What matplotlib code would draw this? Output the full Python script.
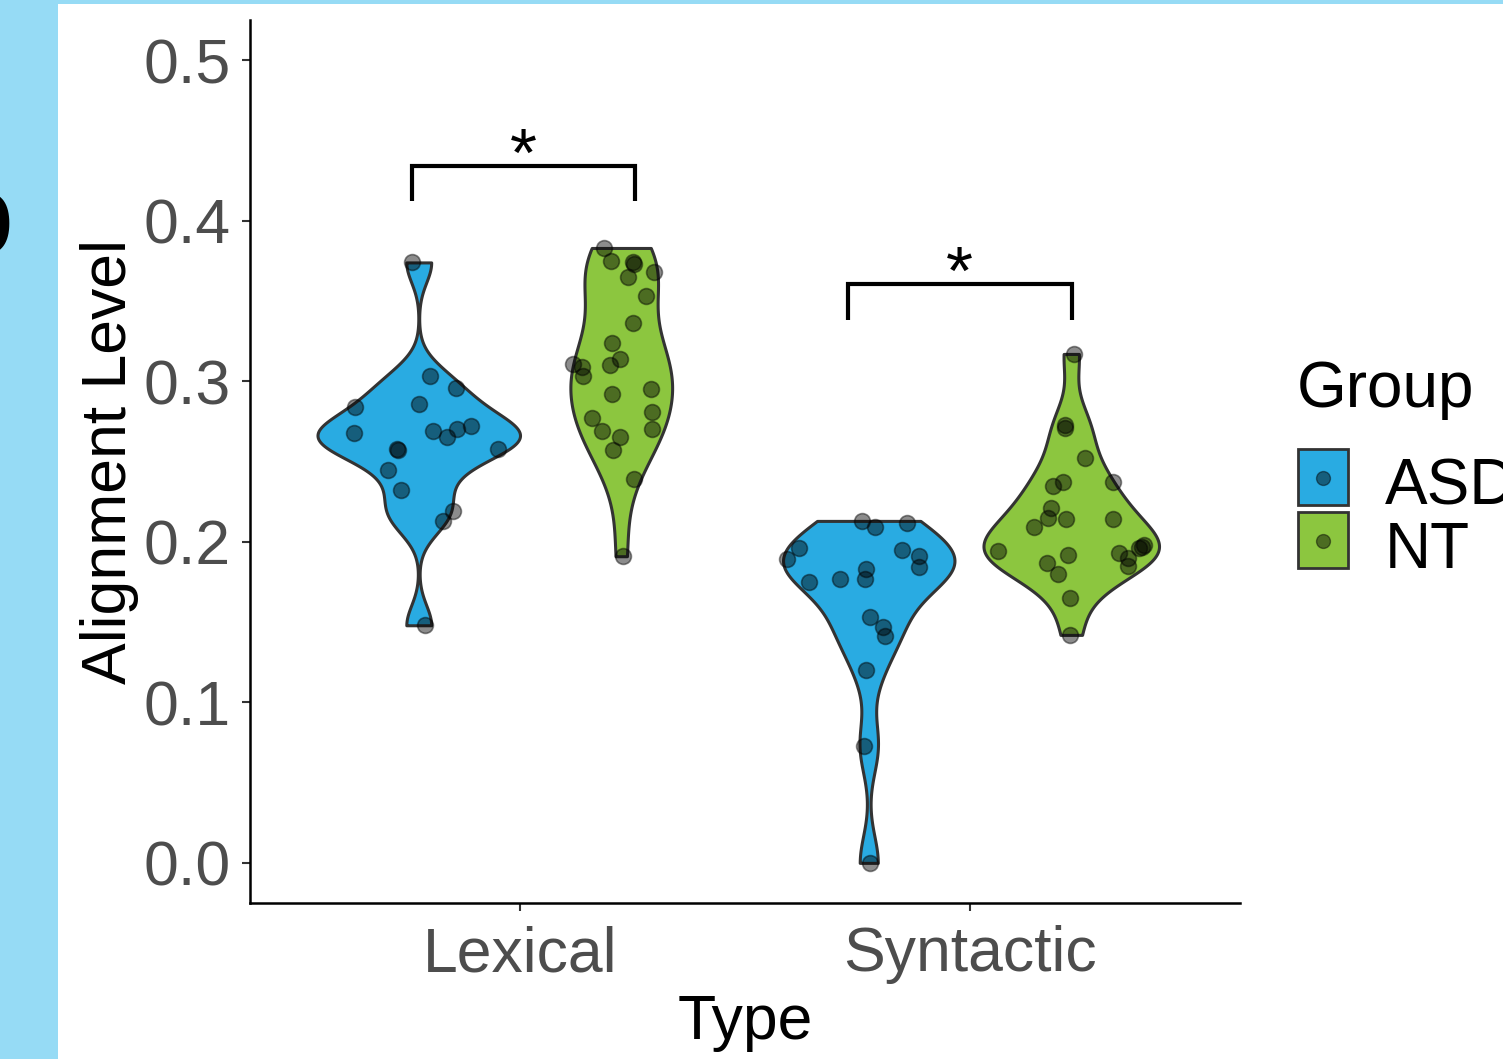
import numpy as np
import matplotlib.pyplot as plt
from matplotlib.patches import Rectangle
from matplotlib.lines import Line2D

plt.rcParams['font.family'] = ['Liberation Sans', 'DejaVu Sans']

types = ['Lexical', 'Syntactic']
groups = ['ASD', 'NT']
fills = {'ASD': '#29ABE2', 'NT': '#8CC63F'}

# alignment level per participant + horizontal jitter offsets
asd_lexical = [0.374, 0.284, 0.268, 0.303, 0.296, 0.286, 0.269, 0.265, 0.270, 0.272,
               0.258, 0.257, 0.258, 0.245, 0.232, 0.219, 0.213, 0.148]
asd_lexical_jit = [-0.015, -0.141, -0.145, 0.025, 0.083, 0.000, 0.031, 0.062, 0.084, 0.117,
                   -0.048, -0.047, 0.175, -0.069, -0.039, 0.076, 0.054, 0.014]

nt_lexical = [0.383, 0.375, 0.374, 0.373, 0.365, 0.368, 0.353, 0.336, 0.324, 0.314, 0.310, 0.311,
              0.309, 0.303, 0.292, 0.295, 0.281, 0.270, 0.277, 0.269, 0.265, 0.257, 0.239, 0.191]
nt_lexical_jit = [-0.039, -0.023, 0.026, 0.028, 0.015, 0.072, 0.056, 0.026, -0.020, -0.003, -0.025, -0.107,
                  -0.088, -0.086, -0.020, 0.067, 0.069, 0.069, -0.064, -0.042, -0.003, -0.018, 0.028, 0.004]

asd_syntactic = [0.213, 0.209, 0.212, 0.196, 0.189, 0.195, 0.191, 0.184, 0.183, 0.177,
                 0.175, 0.177, 0.153, 0.147, 0.141, 0.120, 0.073, 0.000]
asd_syntactic_jit = [-0.014, 0.014, 0.086, -0.156, -0.182, 0.073, 0.112, 0.112, -0.006, -0.008,
                     -0.133, -0.065, 0.003, 0.031, 0.037, -0.006, -0.010, 0.003]

nt_syntactic = [0.317, 0.273, 0.271, 0.252, 0.235, 0.237, 0.237, 0.221, 0.215, 0.214, 0.209, 0.214,
                0.194, 0.192, 0.187, 0.180, 0.193, 0.190, 0.185, 0.196, 0.198, 0.197, 0.165, 0.142]
nt_syntactic_jit = [0.006, -0.015, -0.013, 0.030, -0.041, -0.019, 0.093, -0.044, -0.052, -0.012, -0.083, 0.092,
                    -0.163, -0.008, -0.055, -0.030, 0.105, 0.127, 0.127, 0.150, 0.161, 0.157, -0.002, -0.002]

series = [
    ('Lexical', 'ASD', asd_lexical, asd_lexical_jit),
    ('Lexical', 'NT', nt_lexical, nt_lexical_jit),
    ('Syntactic', 'ASD', asd_syntactic, asd_syntactic_jit),
    ('Syntactic', 'NT', nt_syntactic, nt_syntactic_jit),
]

# significance brackets: (x left, x right, y bottom, y top, label)
brackets = [(0.76, 1.255, 0.412, 0.434, '*'), (1.729, 2.226, 0.338, 0.3605, '*')]


def kde(vals):
    # gaussian kde with R's nrd0 bandwidth, trimmed to data range
    v = np.asarray(vals)
    sd = v.std(ddof=1)
    q75, q25 = np.percentile(v, [75, 25])
    bw = 0.9 * min(sd, (q75 - q25) / 1.34) * len(v) ** -0.2
    grid = np.linspace(v.min(), v.max(), 512)
    d = np.exp(-0.5 * ((grid[:, None] - v[None, :]) / bw) ** 2).sum(1)
    d = d / (len(v) * bw * np.sqrt(2 * np.pi))
    return grid, d


fig = plt.figure(figsize=(15.03, 10.59), dpi=100, facecolor='#96DBF5')
fig.patches.append(Rectangle((58 / 1503, 0), 1 - 58 / 1503, 1 - 4 / 1059,
                             transform=fig.transFigure, facecolor='white',
                             edgecolor='none', zorder=-10))
ax = fig.add_axes([250 / 1503, 1 - 903 / 1059, 990 / 1503, 883 / 1059])

dens = [kde(s[2]) for s in series]
dmax = max(d.max() for g, d in dens)

for (t, g, vals, jit), (grid, d) in zip(series, dens):
    xc = types.index(t) + 1 + (-0.225 if g == 'ASD' else 0.225)
    hw = 0.225 * d / dmax
    ax.fill_betweenx(grid, xc - hw, xc + hw, facecolor=fills[g],
                     edgecolor='#333333', linewidth=2.2, zorder=2)
    ax.scatter(xc + np.array(jit), vals, s=130, color='black', alpha=0.45,
               edgecolors='black', linewidths=1.2, zorder=3, clip_on=False)

for x0, x1, y0, y1, lab in brackets:
    ax.plot([x0, x0, x1, x1], [y0, y1, y1, y0], color='black', lw=3,
            solid_joinstyle='miter', solid_capstyle='butt', zorder=4)
    ax.text((x0 + x1) / 2, y1 - 0.015, lab, ha='center', va='bottom',
            fontsize=50, color='black')

ax.set_xlim(0.4, 2.6)
ax.set_ylim(-0.025, 0.525)
ax.set_xticks([1, 2])
ax.set_xticklabels(types)
ax.set_yticks([0.0, 0.1, 0.2, 0.3, 0.4, 0.5])
ax.set_yticklabels(['0.0', '0.1', '0.2', '0.3', '0.4', '0.5'])
for side in ['top', 'right']:
    ax.spines[side].set_visible(False)
for side in ['left', 'bottom']:
    ax.spines[side].set_linewidth(1.8)
    ax.spines[side].set_color('black')
ax.tick_params(axis='both', colors='#333333', width=1.5, length=6,
               labelsize=45, labelcolor='#4D4D4D')
ax.tick_params(axis='y', pad=8)
ax.tick_params(axis='x', pad=10)
ax.set_xlabel('Type', fontsize=45, color='black', labelpad=6)
ax.set_ylabel('Alignment Level', fontsize=45, color='black', labelpad=3)

# legend
W, H = 1503, 1059
fig.text(1297 / W, 1 - 407 / H, 'Group', fontsize=46, ha='left', va='baseline')
for i, g in enumerate(groups):
    top = 449 + i * 63
    fig.patches.append(Rectangle((1298 / W, 1 - (top + 56) / H), 50 / W, 56 / H,
                                 transform=fig.transFigure, facecolor=fills[g],
                                 edgecolor='#333333', linewidth=2.0))
    fig.add_artist(Line2D([1323 / W], [1 - (top + 29) / H], transform=fig.transFigure,
                          marker='o', markersize=10, color='black', alpha=0.45, ls='none'))
    fig.text(1385 / W, 1 - (top + 56) / H, g, fontsize=46, ha='left', va='baseline')

fig.text(14 / W, 1 - 253 / H, 'b', fontsize=80, fontweight='bold', ha='right', va='baseline')

fig.savefig('out.png', dpi=100, facecolor=fig.get_facecolor())
